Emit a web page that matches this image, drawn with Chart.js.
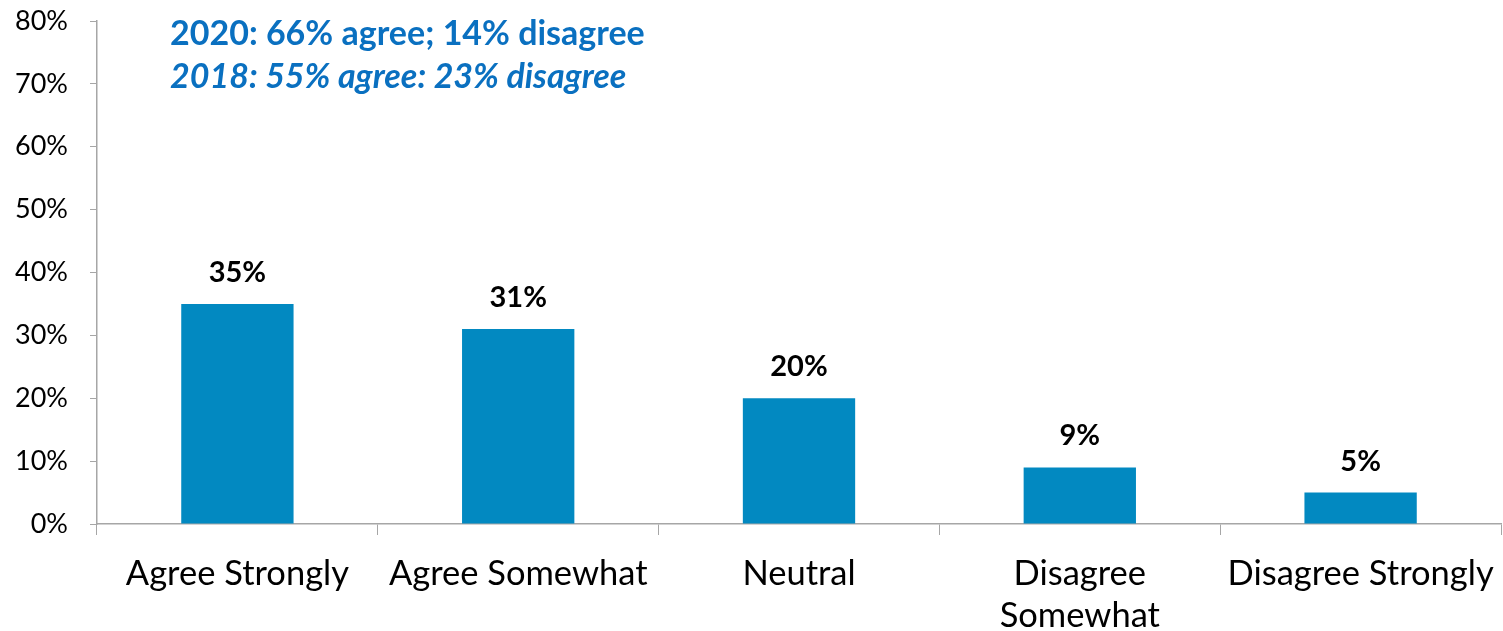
<!DOCTYPE html>
<html>
<head>
<meta charset="utf-8">
<script src="https://cdn.jsdelivr.net/npm/chart.js@4/dist/chart.umd.min.js"></script>
<style>
  html, body { margin: 0; padding: 0; background: #ffffff; }
  #wrap { width: 1503px; height: 631px; }
</style>
</head>
<body>
<div id="wrap"><canvas id="c" width="1503" height="631"></canvas></div>
<script>
// Survey responses, 2020 wave (percent of respondents)
const categories = ['Agree Strongly', 'Agree Somewhat', 'Neutral', ['Disagree', 'Somewhat'], 'Disagree Strongly'];
const shares2020 = [35, 31, 20, 9, 5];
const yTickValues = [0, 10, 20, 30, 40, 50, 60, 70, 80];
const summaryLines = ['2020: 66% agree; 14% disagree', '2018: 55% agree: 23% disagree'];

const FONT = 'Lato, "Open Sans", sans-serif';
const BAR = '#0289C1';
const AXIS = '#A6A6A6';
const ACCENT = '#0A70C0';

// Value labels above each bar
const valueLabels = {
  id: 'valueLabels',
  afterDatasetsDraw(chart) {
    const ctx = chart.ctx;
    const meta = chart.getDatasetMeta(0);
    ctx.save();
    ctx.font = 'bold 29px ' + FONT;
    ctx.fillStyle = '#000000';
    ctx.textAlign = 'center';
    ctx.textBaseline = 'alphabetic';
    meta.data.forEach((bar, i) => {
      ctx.fillText(shares2020[i] + '%', bar.x, bar.y - 22);
    });
    ctx.restore();
  }
};

// Two-line summary in the upper left of the plot
const summaryText = {
  id: 'summaryText',
  afterDraw(chart) {
    const ctx = chart.ctx;
    ctx.save();
    ctx.fillStyle = ACCENT;
    ctx.textAlign = 'left';
    ctx.textBaseline = 'alphabetic';
    ctx.font = 'bold 34px ' + FONT;
    ctx.fillText(summaryLines[0], 170, 45);
    ctx.font = 'italic bold 34px ' + FONT;
    ctx.fillText(summaryLines[1], 170, 88);
    ctx.restore();
  }
};

new Chart(document.getElementById('c'), {
  type: 'bar',
  data: {
    labels: categories,
    datasets: [{
      data: shares2020,
      backgroundColor: BAR,
      borderWidth: 0,
      categoryPercentage: 0.4,
      barPercentage: 1.0
    }]
  },
  options: {
    responsive: false,
    animation: false,
    devicePixelRatio: 1,
    layout: { padding: { top: 21, right: 2, left: 0, bottom: 0 } },
    plugins: {
      legend: { display: false },
      tooltip: { enabled: false },
      title: { display: false }
    },
    scales: {
      x: {
        offset: true,
        grid: {
          offset: true,
          drawOnChartArea: false,
          drawTicks: true,
          tickLength: 11,
          color: AXIS,
          lineWidth: 1
        },
        border: { display: true, color: AXIS, width: 1.5 },
        ticks: {
          color: '#000000',
          font: { family: FONT, size: 34.5, lineHeight: 1.24 },
          padding: 17,
          maxRotation: 0,
          autoSkip: false
        },
        afterFit(scale) {
          scale.height = 107;
          scale.paddingLeft = 0;
          scale.paddingRight = 0;
        }
      },
      y: {
        min: 0,
        max: 80,
        afterBuildTicks(scale) {
          scale.ticks = yTickValues.map(v => ({ value: v }));
        },
        grid: {
          drawOnChartArea: false,
          drawTicks: true,
          tickLength: 7,
          color: AXIS,
          lineWidth: 1
        },
        border: { display: true, color: AXIS, width: 1.5 },
        ticks: {
          color: '#000000',
          font: { family: FONT, size: 27 },
          padding: 22,
          callback: v => v + '%'
        },
        afterFit(scale) {
          scale.width = 97;
          scale.paddingTop = 0;
          scale.paddingBottom = 0;
        }
      }
    }
  },
  plugins: [valueLabels, summaryText]
});
</script>
</body>
</html>
